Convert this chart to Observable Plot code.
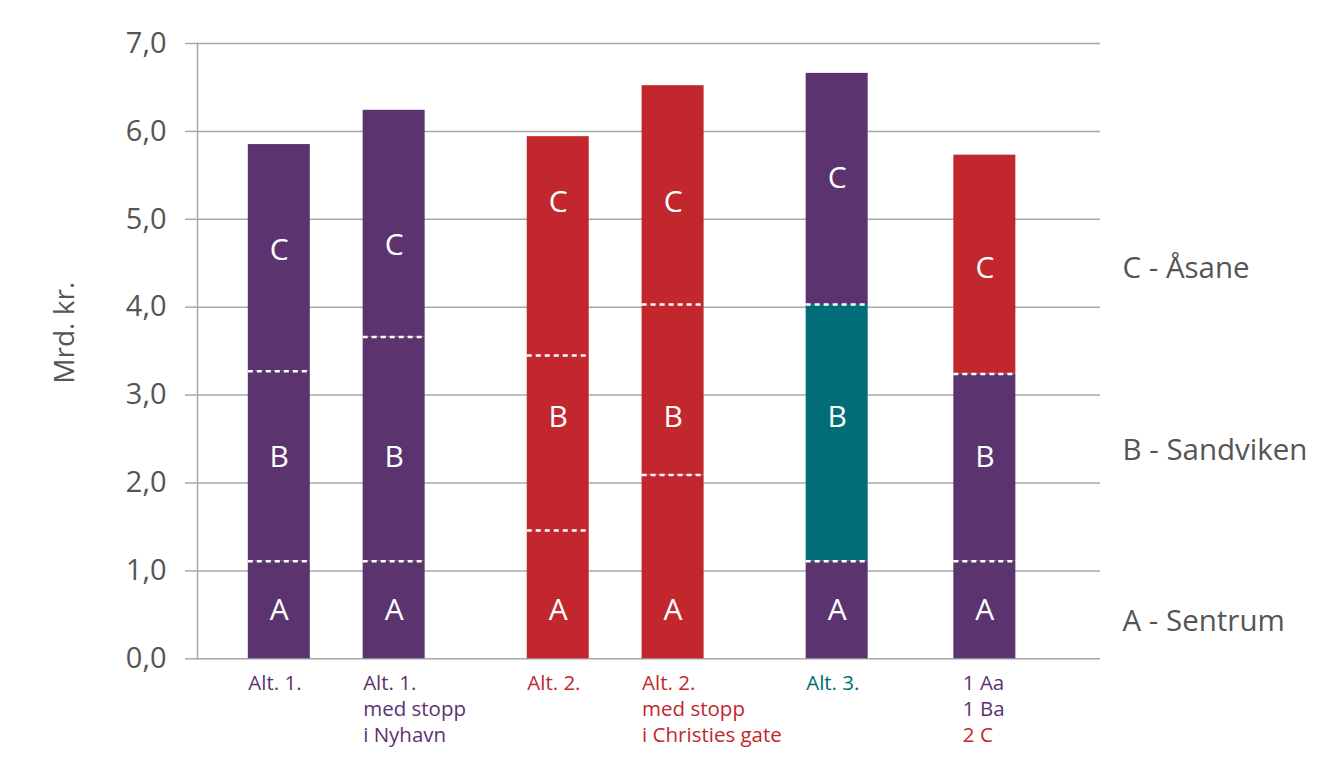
<!DOCTYPE html>
<html>
<head>
<meta charset="utf-8">
<script src="https://cdn.jsdelivr.net/npm/d3@7"></script>
<script src="https://cdn.jsdelivr.net/npm/@observablehq/plot@0.6"></script>
<style>
  html, body { margin: 0; padding: 0; background: #fff; }
  #chart svg { display: block; }
</style>
</head>
<body>
<div id="chart"></div>
<script>
// ---- Data ----
const keys = ["alt1", "alt1s", "alt2", "alt2s", "alt3", "mix"];
const segA = [1.11, 1.11, 1.46, 2.09, 1.11, 1.11];
const segB = [2.16, 2.55, 1.99, 1.94, 2.92, 2.13];
const segC = [2.58, 2.58, 2.49, 2.49, 2.63, 2.49];
const colA = ["purple", "purple", "red", "red", "purple", "purple"];
const colB = ["purple", "purple", "red", "red", "teal", "purple"];
const colC = ["purple", "purple", "red", "red", "purple", "red"];
const labelYA = [0.55, 0.55, 0.55, 0.55, 0.55, 0.55];
const labelYB = [2.29, 2.29, 2.75, 2.75, 2.75, 2.29];
const labelYC = [4.645, 4.70, 5.19, 5.19, 5.46, 4.44];
const xLabelLines = [
  ["Alt. 1."],
  ["Alt. 1.", "med stopp", "i Nyhavn"],
  ["Alt. 2."],
  ["Alt. 2.", "med stopp", "i Christies gate"],
  ["Alt. 3."],
  ["1 Aa", "1 Ba", "2 C"]
];
const xLabelColors = [
  ["purple"],
  ["purple", "purple", "purple"],
  ["red"],
  ["red", "red", "red"],
  ["teal"],
  ["purple", "purple", "red"]
];
const legendText = ["C - Åsane", "B - Sandviken", "A - Sentrum"];
const legendY = [4.44, 2.37, 0.42];
const yTicks = [0, 1, 2, 3, 4, 5, 6, 7];
const yLabel = "Mrd. kr.";

// ---- Style / layout ----
const palette = {purple: "#5B336F", red: "#C1272D", teal: "#006D77"};
const textGray = "#555555";
const gridGray = "#a8a8a8";
const slotIndex = [0, 7, 17, 24, 34, 43];   // uneven group spacing
const nSlots = 44;
const barWidth = 62;
const step = 16.408;
const r0 = 270.6;
const labelIndent = {mix: 9};

const domain = d3.range(nSlots).map(n => {
  const i = slotIndex.indexOf(n);
  return i >= 0 ? keys[i] : `gap${n}`;
});
const inset = -(barWidth - step) / 2;

// ---- Derived tables ----
const segs = [];
keys.forEach((k, i) => {
  segs.push({key: k, seg: "A", value: segA[i], color: palette[colA[i]]});
  segs.push({key: k, seg: "B", value: segB[i], color: palette[colB[i]]});
  segs.push({key: k, seg: "C", value: segC[i], color: palette[colC[i]]});
});
const dividers = [];
keys.forEach((k, i) => {
  dividers.push({key: k, y: segA[i]});
  dividers.push({key: k, y: segA[i] + segB[i]});
});
const letters = [];
keys.forEach((k, i) => {
  letters.push({key: k, y: labelYA[i], t: "A"});
  letters.push({key: k, y: labelYB[i], t: "B"});
  letters.push({key: k, y: labelYC[i], t: "C"});
});
const xLabelRows = [];
keys.forEach((k, i) => {
  xLabelLines[i].forEach((t, j) => {
    xLabelRows.push({key: k, line: j, text: t, color: palette[xLabelColors[i][j]]});
  });
});
const legendRows = legendText.map((t, i) => ({text: t, y: legendY[i]}));

const lineStep = 26.3;
const xLabelMarks = [];
for (let j = 0; j < 3; j++) {
  for (const indented of [false, true]) {
    const rows = xLabelRows.filter(d => d.line === j && (labelIndent[d.key] != null) === indented);
    if (!rows.length) continue;
    const extra = indented ? labelIndent[rows[0].key] : 0;
    xLabelMarks.push(Plot.text(rows, {
      x: "key", text: "text", fill: "color",
      frameAnchor: "bottom", textAnchor: "start", lineAnchor: "top",
      dx: -barWidth / 2 + extra, dy: 16.5 + j * lineStep,
      fontSize: 20.5
    }));
  }
}

const chart = Plot.plot({
  width: 1337,
  height: 769,
  marginLeft: 197,
  marginRight: 237,
  marginTop: 43,
  marginBottom: 110.7,
  style: {fontFamily: "'Open Sans', sans-serif", background: "#fff"},
  x: {type: "band", domain, range: [r0, r0 + nSlots * step], padding: 0, round: false, axis: null},
  y: {domain: [0, 7], axis: null},
  color: {type: "identity"},
  marks: [
    Plot.ruleY(yTicks, {stroke: gridGray, strokeWidth: 1.5}),
    Plot.axisY(yTicks, {
      tickSize: 12, tickPadding: 19, stroke: gridGray, strokeWidth: 1.5,
      tickFormat: d => d.toFixed(1).replace(".", ","),
      fontSize: 29, fill: textGray, label: null
    }),
    Plot.frame({anchor: "left", stroke: gridGray, strokeWidth: 1.5}),
    Plot.barY(segs, {x: "key", y: "value", fill: "color", insetLeft: inset, insetRight: inset}),
    Plot.tickY(dividers, {x: "key", y: "y", stroke: "white", strokeWidth: 2.5, strokeDasharray: "5,4", insetLeft: inset, insetRight: inset}),
    Plot.text(letters, {x: "key", y: "y", text: "t", fill: "white", fontSize: 30}),
    ...xLabelMarks,
    Plot.text(legendRows, {y: "y", text: "text", frameAnchor: "right", dx: 22, textAnchor: "start", fontSize: 29.5, fill: textGray}),
    Plot.text([yLabel], {y: () => 3.71, text: d => d, frameAnchor: "left", textAnchor: "middle", dx: -132, rotate: -90, fontSize: 28, fill: textGray})
  ]
});
document.getElementById("chart").appendChild(chart);
</script>
</body>
</html>
